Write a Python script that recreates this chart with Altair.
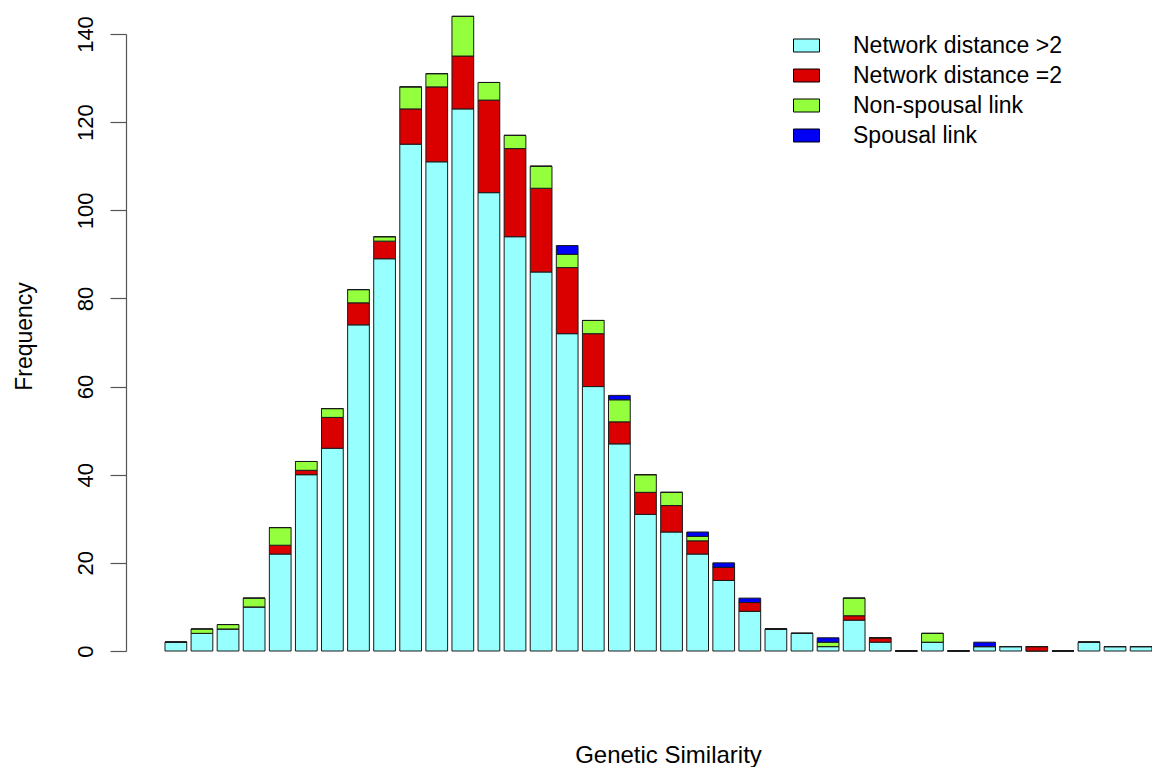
import altair as alt
import pandas as pd

# Stacked counts per genetic-similarity bin (38 bins, left to right)
dist_gt2 = [2, 4, 5, 10, 22, 40, 46, 74, 89, 115, 111, 123, 104, 94, 86, 72, 60, 47, 31, 27,
            22, 16, 9, 5, 4, 1, 7, 2, 0, 2, 0, 1, 1, 0, 0, 2, 1, 1]
dist_eq2 = [0, 0, 0, 0, 2, 1, 7, 5, 4, 8, 17, 12, 21, 20, 19, 15, 12, 5, 5, 6,
            3, 3, 2, 0, 0, 0, 1, 1, 0, 0, 0, 0, 0, 1, 0, 0, 0, 0]
non_spousal = [0, 1, 1, 2, 4, 2, 2, 3, 1, 5, 3, 9, 4, 3, 5, 3, 3, 5, 4, 3,
               1, 0, 0, 0, 0, 1, 4, 0, 0, 2, 0, 0, 0, 0, 0, 0, 0, 0]
spousal = [0, 0, 0, 0, 0, 0, 0, 0, 0, 0, 0, 0, 0, 0, 0, 2, 0, 1, 0, 0,
           1, 1, 1, 0, 0, 1, 0, 0, 0, 0, 0, 1, 0, 0, 0, 0, 0, 0]

series_names = ["Network distance >2", "Network distance =2", "Non-spousal link", "Spousal link"]
series_colors = ["#98FFFF", "#DA0000", "#94FF3C", "#0000F5"]
y_ticks = [0, 20, 40, 60, 80, 100, 120, 140]

rows = []
for s_idx, (name, vals) in enumerate(zip(series_names, [dist_gt2, dist_eq2, non_spousal, spousal])):
    for b, v in enumerate(vals):
        rows.append({"bin": b + 1, "series": name, "order": s_idx, "count": v})
df = pd.DataFrame(rows)

bars = alt.Chart(df).mark_bar(stroke="#1a1a1a", strokeWidth=1, opacity=1).encode(
    x=alt.X("bin:O",
            scale=alt.Scale(paddingInner=0.1667, paddingOuter=0.7474, align=1),
            axis=alt.Axis(title="Genetic Similarity", domain=False, ticks=False, labels=False,
                          titleFontSize=24, titleFontWeight="normal", titleColor="black",
                          titleX=542, titleY=111, titleAlign="center", titleBaseline="alphabetic")),
    y=alt.Y("count:Q", stack="zero",
            scale=alt.Scale(domain=[0, 140], nice=False, zero=True),
            axis=alt.Axis(values=y_ticks, grid=False, domainColor="#555555", tickColor="#555555",
                          domainWidth=1.2, tickWidth=1.2,
                          tickSize=16, labelAngle=270, labelAlign="center", labelBaseline="alphabetic",
                          labelFontSize=22, labelPadding=18, labelColor="black",
                          title="Frequency", titleFontSize=23, titleFontWeight="normal",
                          titleColor="black", titleAngle=270, titleX=-95, titleY=302,
                          titleAlign="center", titleBaseline="alphabetic")),
    color=alt.Color("series:N",
                    scale=alt.Scale(domain=series_names, range=series_colors),
                    legend=alt.Legend(title=None, orient="none", legendX=667, legendY=-2,
                                      symbolType="M-1,-0.5H1V0.5H-1Z", symbolSize=676,
                                      symbolStrokeColor="black", symbolStrokeWidth=1,
                                      symbolOpacity=1, labelFontSize=23, labelColor="black",
                                      labelOffset=33, rowPadding=4, padding=0,
                                      labelLimit=400)),
    order=alt.Order("order:Q", sort="ascending"),
)

chart = bars.properties(
    width=1026, height=617,
    autosize=alt.AutoSizeParams(type="none"),
    padding={"left": 118, "top": 26, "right": 0, "bottom": 116},
).configure(font="Liberation Sans").configure_view(stroke=None)

chart.save("out.html", embed_options={"renderer": "svg", "actions": False})
